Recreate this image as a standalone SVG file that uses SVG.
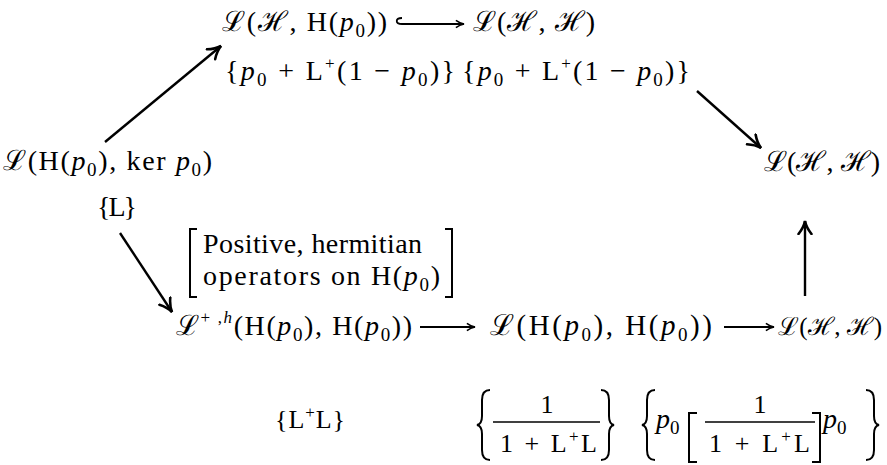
<svg xmlns="http://www.w3.org/2000/svg" width="887" height="465" viewBox="0 0 887 465">
<style>
text{font-family:"Liberation Serif","DejaVu Serif",serif;font-size:28px;fill:#000}
.i{font-style:italic}
.sub{font-size:19px}
.sup{font-size:17px}
.f{font-size:26px}
.c{stroke:#000;stroke-width:2.4;fill:none}
.t{stroke:#000;stroke-width:1.8;fill:none}
.br{stroke:#000;stroke-width:2;fill:none}
</style>
<defs>
<marker id="ah" viewBox="0 0 12 12" refX="11" refY="6" markerWidth="6.5" markerHeight="6.5" orient="auto" markerUnits="strokeWidth">
<path d="M1,1 Q6,5 11,6 Q6,7 1,11" stroke="#000" stroke-width="2" fill="none" stroke-linecap="round"/>
</marker>
<marker id="ahs" viewBox="0 0 12 12" refX="11" refY="6" markerWidth="6" markerHeight="6" orient="auto" markerUnits="strokeWidth">
<path d="M2,2 Q6,5 11,6 Q6,7 2,10" stroke="#000" stroke-width="1.8" fill="none"/>
</marker>
</defs>
<rect width="887" height="465" fill="#fff"/>

<g id="connectors">
<line class="c" x1="105" y1="142" x2="221" y2="46" marker-end="url(#ah)"/>
<line class="c" x1="697" y1="91" x2="761" y2="148" marker-end="url(#ah)"/>
<line class="c" x1="120" y1="233" x2="172" y2="312" marker-end="url(#ah)"/>
<line class="c" x1="805" y1="296" x2="805" y2="221" marker-end="url(#ah)"/>
<path class="t" d="M402,18 C395,18 395,24 402,24 L464,24" marker-end="url(#ahs)"/>
<line class="t" x1="420" y1="327" x2="475" y2="327" marker-end="url(#ahs)"/>
<line class="t" x1="724" y1="327" x2="774" y2="327" marker-end="url(#ahs)"/>
</g>

<g id="n-top-left">
<text x="222" y="31" textLength="165" lengthAdjust="spacing">ℒ(ℋ, H(<tspan class="i">p</tspan><tspan class="sub" dy="6">0</tspan><tspan dy="-6">))</tspan></text>
</g>
<g id="n-top-right">
<text x="473" y="31" textLength="122" lengthAdjust="spacing">ℒ(ℋ, ℋ)</text>
</g>
<g id="lbl-top">
<text x="225" y="80" textLength="230" lengthAdjust="spacing">{<tspan class="i">p</tspan><tspan class="sub" dy="6">0</tspan><tspan dy="-6"> + L</tspan><tspan class="sup" dy="-11">+</tspan><tspan dy="11">(1 − </tspan><tspan class="i">p</tspan><tspan class="sub" dy="6">0</tspan><tspan dy="-6">)}</tspan></text>
<text x="462" y="80" textLength="228" lengthAdjust="spacing">{<tspan class="i">p</tspan><tspan class="sub" dy="6">0</tspan><tspan dy="-6"> + L</tspan><tspan class="sup" dy="-11">+</tspan><tspan dy="11">(1 − </tspan><tspan class="i">p</tspan><tspan class="sub" dy="6">0</tspan><tspan dy="-6">)}</tspan></text>
</g>
<g id="n-left">
<text x="3" y="170" textLength="209" lengthAdjust="spacing">ℒ(H(<tspan class="i">p</tspan><tspan class="sub" dy="6">0</tspan><tspan dy="-6">), ker </tspan><tspan class="i">p</tspan><tspan class="sub" dy="6">0</tspan><tspan dy="-6">)</tspan></text>
</g>
<g id="lbl-L">
<text x="97" y="216" textLength="40" lengthAdjust="spacing">{L}</text>
</g>
<g id="n-right">
<text x="764" y="171" textLength="116" lengthAdjust="spacing">ℒ(ℋ, ℋ)</text>
</g>
<g id="lbl-note">
<path class="br" d="M197,229 L190,229 L190,297 L197,297"/>
<path class="br" d="M445,229 L452,229 L452,297 L445,297"/>
<text x="203" y="253" textLength="219" lengthAdjust="spacing">Positive, hermitian</text>
<text x="203" y="285" textLength="237" lengthAdjust="spacing">operators on  H(<tspan class="i">p</tspan><tspan class="sub" dy="6">0</tspan><tspan dy="-6">)</tspan></text>
</g>
<g id="n-bottom-1">
<text x="176" y="335" textLength="236" lengthAdjust="spacing">ℒ<tspan class="sup" dy="-12">+ ,</tspan><tspan class="sup i">h</tspan><tspan dy="12">(H(</tspan><tspan class="i">p</tspan><tspan class="sub" dy="6">0</tspan><tspan dy="-6">), H(</tspan><tspan class="i">p</tspan><tspan class="sub" dy="6">0</tspan><tspan dy="-6">))</tspan></text>
</g>
<g id="n-bottom-2">
<text x="490" y="335" textLength="222" lengthAdjust="spacing" style="font-size:29px">ℒ(H(<tspan class="i">p</tspan><tspan class="sub" dy="6">0</tspan><tspan dy="-6">), H(</tspan><tspan class="i">p</tspan><tspan class="sub" dy="6">0</tspan><tspan dy="-6">))</tspan></text>
</g>
<g id="n-bottom-3">
<text x="778" y="335" textLength="104" lengthAdjust="spacing" style="font-size:25px">ℒ(ℋ, ℋ)</text>
</g>
<g id="lbl-bottom">
<text x="275" y="428" class="f" textLength="70" lengthAdjust="spacing">{L<tspan class="sup" dy="-10">+</tspan><tspan dy="10">L}</tspan></text>
<path class="br" d="M490,390 Q482,390 482,400 L482,416 Q482,424 477,425 Q482,426 482,434 L482,450 Q482,460 490,460"/>
<text x="547" y="413" class="f" text-anchor="middle">1</text>
<line x1="493" y1="422" x2="600" y2="422" stroke="#000" stroke-width="1.6"/>
<text x="500" y="452" class="f" textLength="97" lengthAdjust="spacing">1 + L<tspan class="sup" dy="-10">+</tspan><tspan dy="10">L</tspan></text>
<path class="br" d="M601,390 Q609,390 609,400 L609,416 Q609,424 614,425 Q609,426 609,434 L609,450 Q609,460 601,460"/>
<path class="br" d="M655,390 Q647,390 647,400 L647,416 Q647,424 642,425 Q647,426 647,434 L647,450 Q647,460 655,460"/>
<text x="656" y="428"><tspan class="i">p</tspan><tspan class="sub" dy="6">0</tspan></text>
<path class="br" d="M697,413 L689,413 L689,462 L697,462"/>
<text x="760" y="413" class="f" text-anchor="middle">1</text>
<line x1="705" y1="422" x2="815" y2="422" stroke="#000" stroke-width="1.6"/>
<text x="709" y="452" class="f" textLength="101" lengthAdjust="spacing">1 + L<tspan class="sup" dy="-10">+</tspan><tspan dy="10">L</tspan></text>
<path class="br" d="M812,413 L820,413 L820,462 L812,462"/>
<text x="823" y="428"><tspan class="i">p</tspan><tspan class="sub" dy="6">0</tspan></text>
<path class="br" d="M866,390 Q874,390 874,400 L874,416 Q874,424 879,425 Q874,426 874,434 L874,450 Q874,460 866,460"/>
</g>
</svg>
